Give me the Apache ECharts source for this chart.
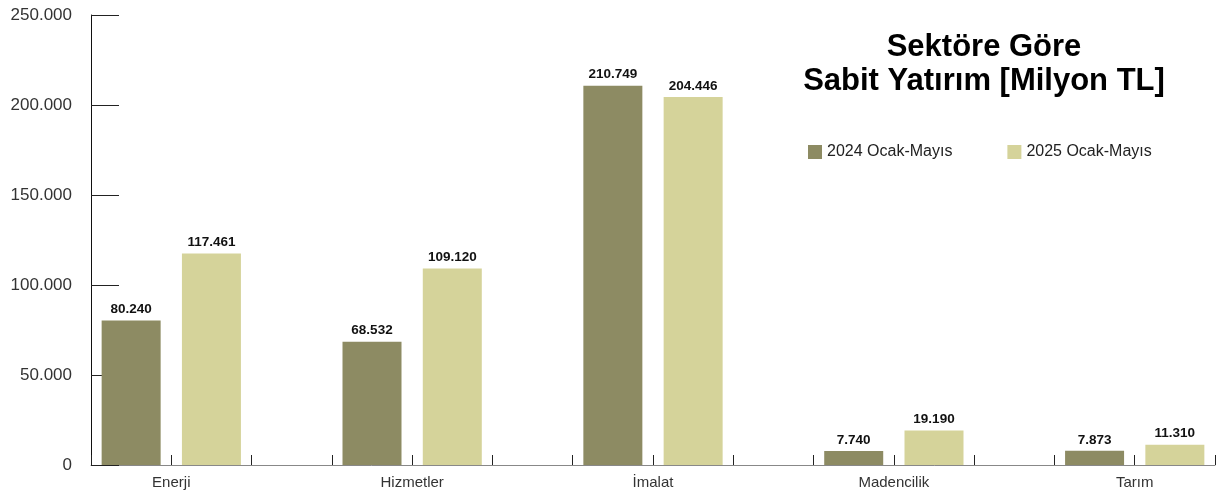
<!DOCTYPE html>
<html><head><meta charset="utf-8">
<script src="https://cdn.jsdelivr.net/npm/echarts@6/dist/echarts.min.js"></script>
<style>html,body{margin:0;padding:0;background:#fff}#c{width:1226px;height:500px}</style>
</head><body><div id="c"></div>
<script>
const categories = ['Enerji', 'Hizmetler', 'İmalat', 'Madencilik', 'Tarım'];
const series2024 = [80240, 68532, 210749, 7740, 7873];
const series2025 = [117461, 109120, 204446, 19190, 11310];
const seriesNames = ['2024 Ocak-Mayıs', '2025 Ocak-Mayıs'];
const yTicks = [0, 50000, 100000, 150000, 200000, 250000];

const FONT = '"Liberation Sans", Arial, sans-serif';
const fmt = v => String(v).replace(/\B(?=(\d{3})+(?!\d))/g, '.');
// each category occupies 3 slots: bar 2024, bar 2025, gap
const slotsPer = 3;
const labelAt = {};
categories.forEach((c, i) => { labelAt[i * slotsPer + 1] = c; });

const chart = echarts.init(document.getElementById('c'), null, {renderer: 'canvas'});
const labelCfg = {
  show: true, position: 'top', distance: 4,
  formatter: p => fmt(p.value[1]),
  fontFamily: FONT, fontSize: 13.5, fontWeight: 'bold', color: '#111'
};
chart.setOption({
  animation: false,
  backgroundColor: '#fff',
  grid: {left: 91, right: 11, top: 15, bottom: 35, containLabel: false},
  graphic: [{
    type: 'text', x: 984, y: 30, z: 10,
    style: {
      text: 'Sektöre Göre\nSabit Yatırım [Milyon TL]',
      align: 'center', textAlign: 'center', verticalAlign: 'top',
      font: 'bold 31px ' + FONT, lineHeight: 34, fill: '#000'
    }
  }],
  legend: {
    left: 803, top: 139, itemWidth: 14, itemHeight: 14, itemGap: 55,
    icon: 'rect',
    textStyle: {fontFamily: FONT, fontSize: 16, color: '#222'},
    data: seriesNames
  },
  xAxis: {
    type: 'value', min: 0, max: categories.length * slotsPer - 1, interval: 1,
    axisLine: {show: true, lineStyle: {color: '#888', width: 1}},
    axisTick: {show: true, inside: true, length: 10, lineStyle: {color: '#222'}},
    splitLine: {show: false},
    axisLabel: {
      show: true, margin: 10, fontFamily: FONT, fontSize: 15, color: '#333',
      showMinLabel: true, showMaxLabel: true,
      formatter: v => labelAt[v] || ''
    }
  },
  yAxis: {
    type: 'value', min: yTicks[0], max: yTicks[yTicks.length - 1], interval: yTicks[1] - yTicks[0],
    axisLine: {show: true, lineStyle: {color: '#111', width: 1}},
    axisTick: {show: true, inside: true, length: 28, lineStyle: {color: '#222'}},
    splitLine: {show: false},
    axisLabel: {margin: 19, fontFamily: FONT, fontSize: 17, color: '#333', formatter: v => fmt(v)}
  },
  series: [
    {
      name: seriesNames[0], type: 'bar', barWidth: 59, barGap: '-100%',
      itemStyle: {color: '#8d8b63'},
      label: labelCfg,
      data: series2024.map((v, i) => [i * slotsPer + 0.5, v])
    },
    {
      name: seriesNames[1], type: 'bar', barWidth: 59, barGap: '-100%',
      itemStyle: {color: '#d5d39a'},
      label: labelCfg,
      data: series2025.map((v, i) => [i * slotsPer + 1.5, v])
    }
  ]
});
</script></body></html>
